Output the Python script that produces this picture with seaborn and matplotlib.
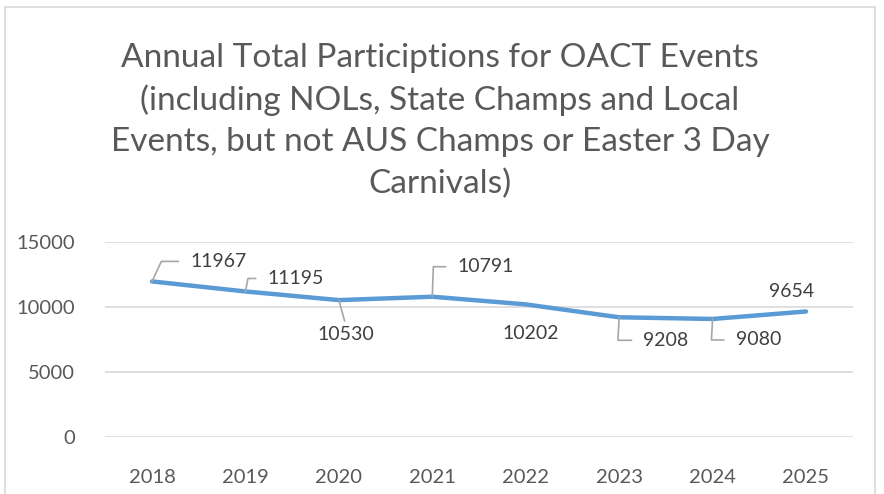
import matplotlib
matplotlib.use("Agg")
import matplotlib.pyplot as plt
import seaborn as sns
import pandas as pd
from matplotlib.patches import Rectangle

years = ["2018", "2019", "2020", "2021", "2022", "2023", "2024", "2025"]
participations = [11967, 11195, 10530, 10791, 10202, 9208, 9080, 9654]
y_ticks = [0, 5000, 10000, 15000]
title_text = ("Annual Total Participtions for OACT Events\n"
              "(including NOLs, State Champs and Local\n"
              "Events, but not AUS Champs or Easter 3 Day\n"
              "Carnivals)")

sns.set_theme(style="white")
plt.rcParams['font.family'] = ['Lato', 'DejaVu Sans']

df = pd.DataFrame({"year": years, "value": participations})

W, H = 884, 494
fig = plt.figure(figsize=(W / 100, H / 100), dpi=100)
ax = fig.add_axes([105.3 / W, 1 - 437 / H, (852.7 - 105.3) / W, (437 - 242) / H])

sns.lineplot(data=df, x="year", y="value", ax=ax, color="#5B9BD5", linewidth=3.2,
             sort=False, solid_capstyle="round", solid_joinstyle="round")

ax.set_xlim(-0.5, len(years) - 0.5)
ax.set_ylim(0, 15000)
ax.set_yticks(y_ticks)
ax.set_yticklabels([str(t) for t in y_ticks])
ax.grid(axis="y", color="#D9D9D9", linewidth=1.2)
ax.set_axisbelow(True)
for s in ax.spines.values():
    s.set_visible(False)
ax.set_xlabel("")
ax.set_ylabel("")
ax.tick_params(axis="both", length=0, labelsize=14.5, labelcolor="#595959")
ax.tick_params(axis="y", pad=22)
ax.tick_params(axis="x", pad=23)

# label placement: (dx, dy in pixels, ha, leader style)
label_offsets = [(38, 20, "left", 65), (22, 13, "left", 79), (7, -34, "center", None),
                 (25, 30, "left", 88), (5, -29, "center", "none"), (24, -23, "left", 87),
                 (23, -21, "left", 87), (-14, 20, "center", "none")]
for i, (v, (dx, dy, ha, lead)) in enumerate(zip(participations, label_offsets)):
    if lead == "none":
        ax.annotate(str(v), xy=(i, v), xytext=(dx, dy), textcoords="offset pixels",
                    ha=ha, va="center", fontsize=14, color="#404040")
    elif lead is None:
        ax.annotate(str(v), xy=(i, v), xytext=(dx, dy), textcoords="offset pixels",
                    ha=ha, va="center", fontsize=14, color="#404040",
                    arrowprops=dict(arrowstyle="-", color="#A6A6A6", lw=1.2,
                                    shrinkA=1, shrinkB=0, relpos=(0.5, 1.0)))
    else:
        ax.annotate(str(v), xy=(i, v), xytext=(dx, dy), textcoords="offset pixels",
                    ha=ha, va="center", fontsize=14, color="#404040",
                    arrowprops=dict(arrowstyle="-", color="#A6A6A6", lw=1.2,
                                    shrinkA=6, shrinkB=0, relpos=(0.0, 0.5),
                                    connectionstyle=f"angle,angleA=180,angleB={lead},rad=0"))

fig.text(440 / W, 1 - 121 / H, title_text, ha="center", va="center", fontsize=24,
         color="#595959", linespacing=1.45)

fig.patches.append(Rectangle((5 / W, -0.1), 870 / W, 1.1 - 7 / H, transform=fig.transFigure,
                             fill=False, edgecolor="#D9D9D9", linewidth=1.2))

fig.savefig("out.png", dpi=100, facecolor="white")
